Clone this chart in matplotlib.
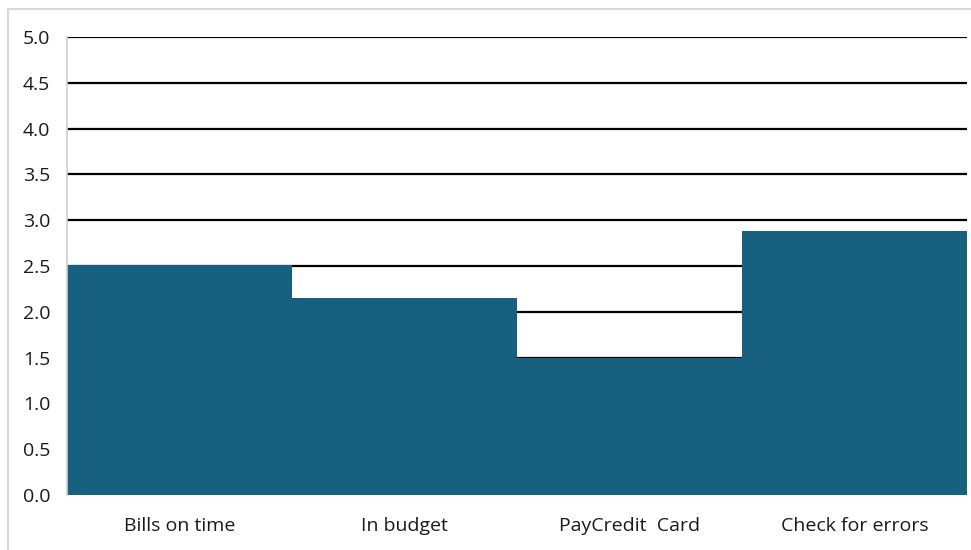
import matplotlib.pyplot as plt
from matplotlib.patches import Rectangle

categories = ["Bills on time", "In budget", "PayCredit  Card", "Check for errors"]
values = [2.51, 2.15, 1.5, 2.88]
y_ticks = [0.0, 0.5, 1.0, 1.5, 2.0, 2.5, 3.0, 3.5, 4.0, 4.5, 5.0]

plt.rcParams["font.family"] = ["Open Sans", "DejaVu Sans"]
plt.rcParams["font.size"] = 14

fig = plt.figure(figsize=(9.71, 5.5), dpi=100)
W, H = 971, 550
ax = fig.add_axes([67 / W, 1 - 495 / H, 900 / W, 458 / H])

# outer chart frame (only top and left edges fall inside the image)
fig.patches.append(Rectangle((8 / W, -0.1), 1.2, 1 - 9 / H + 0.1,
                             transform=fig.transFigure, fill=False,
                             edgecolor="#d9d9d9", linewidth=1.5))

x = range(len(categories))
ax.bar(x, values, width=1.0, color="#17607f", zorder=2)

ax.set_xlim(-0.5, len(categories) - 0.5)
ax.set_ylim(0, 5)
ax.set_yticks(y_ticks)
ax.set_yticklabels([f"{t:.1f}" for t in y_ticks])
ax.set_xticks(list(x))
ax.set_xticklabels(categories)
ax.tick_params(length=0, pad=12, labelcolor="#1a1a1a")
ax.tick_params(axis="x", pad=16)

ax.yaxis.grid(True, color="black", linewidth=1.6, zorder=1)
ax.set_axisbelow(True)
for s in ["top", "right", "bottom"]:
    ax.spines[s].set_visible(False)
ax.spines["left"].set_color("#d0d0d0")
ax.spines["left"].set_linewidth(1.2)

fig.savefig("out.png", dpi=100)
